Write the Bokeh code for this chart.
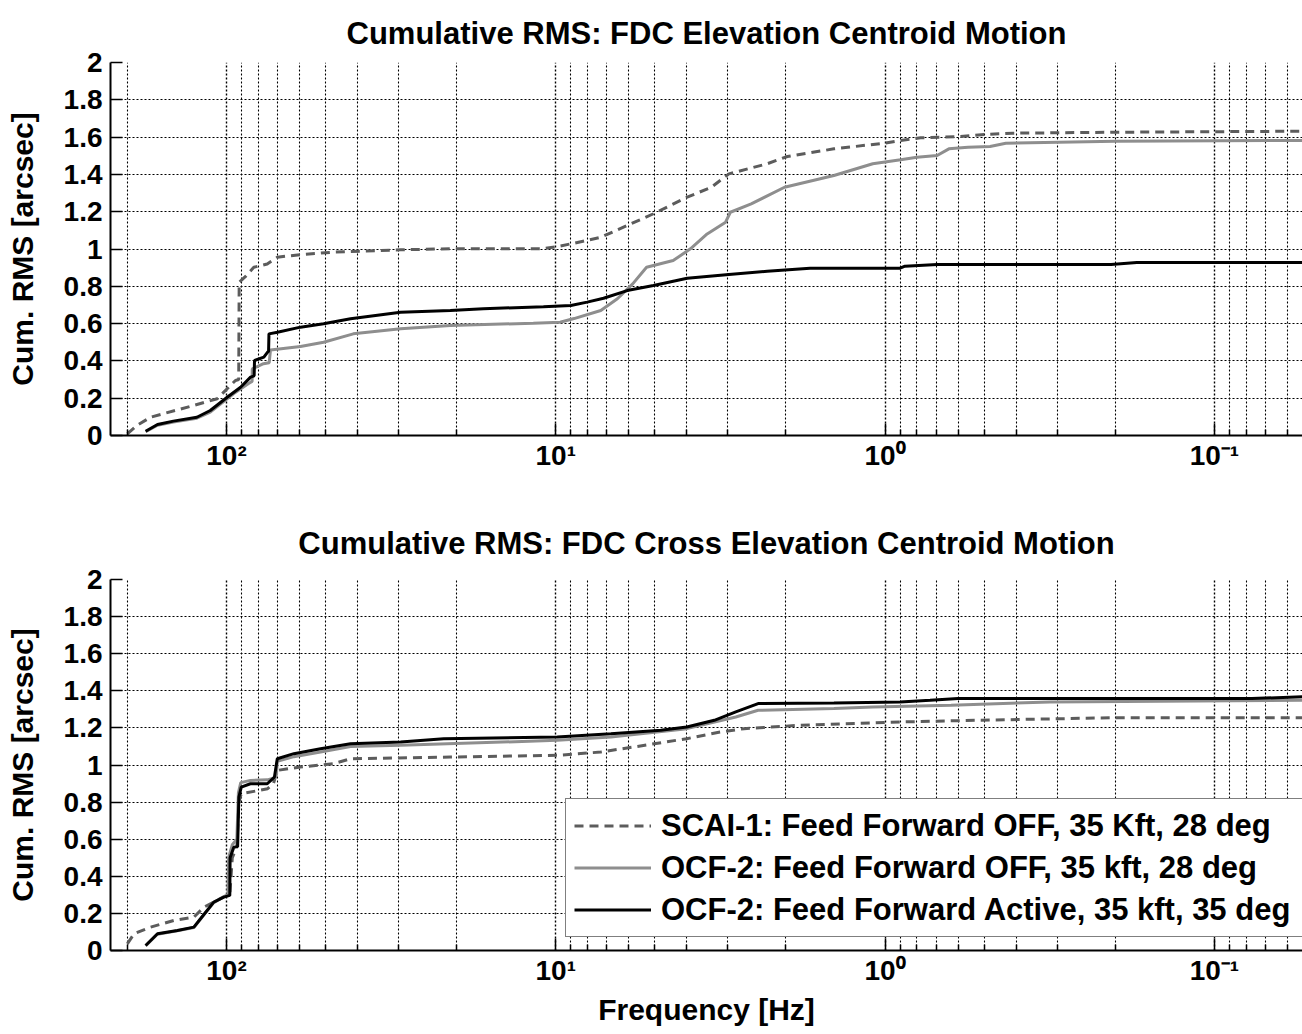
from bokeh.plotting import figure
from bokeh.models import Range1d, FixedTicker, Legend, LegendItem
from bokeh.layouts import column
from bokeh.embed import file_html
from bokeh.resources import INLINE

# ---------------- data ----------------
# Panel 1: FDC Elevation centroid motion
el_scai_f = [200, 187, 170, 125.9, 106.7, 93.9, 91.8, 91.5, 87.5, 82.6, 75.2, 70.1, 59.6, 47.2, 29.6,
             20.9, 11.1, 9.9, 8.8, 7.3, 6.07, 5.05, 3.99, 3.37, 2.98, 2.28, 1.98, 1.43, 1.01, 0.897,
             0.78, 0.59, 0.5, 0.41, 0.2, 0.05]
el_scai_v = [0.009, 0.054, 0.098, 0.161, 0.197, 0.295, 0.30, 0.822, 0.853, 0.902, 0.92, 0.956, 0.97,
             0.983, 0.996, 1.001, 1.001, 1.013, 1.031, 1.063, 1.126, 1.189, 1.278, 1.331, 1.403, 1.457,
             1.496, 1.537, 1.567, 1.582, 1.596, 1.603, 1.614, 1.621, 1.626, 1.632]

el_off_f = [176, 162, 145, 123, 112, 95, 85.7, 83.6, 83.5, 77.2, 74.2, 73.5, 59.6, 50.7, 41.2, 29.6,
            20.9, 11.7, 9.7, 8.8, 7.3, 6.5, 5.84, 5.3, 4.4, 3.9, 3.47, 3.05, 2.95, 2.55, 2.02, 1.43,
            1.09, 0.897, 0.8, 0.695, 0.64, 0.56, 0.48, 0.43, 0.2, 0.05]
el_off_v = [0.02, 0.055, 0.072, 0.093, 0.125, 0.225, 0.279, 0.29, 0.357, 0.385, 0.39, 0.459, 0.477,
            0.5, 0.545, 0.572, 0.59, 0.602, 0.607, 0.627, 0.67, 0.733, 0.813, 0.902, 0.938, 1.001,
            1.081, 1.144, 1.197, 1.242, 1.331, 1.394, 1.457, 1.478, 1.492, 1.501, 1.537, 1.546, 1.55,
            1.567, 1.578, 1.582]

el_on_f = [176, 162, 145, 123, 112, 99.5, 90.6, 84.5, 82.4, 82.2, 77, 75, 74.5, 74.3, 70, 59.6, 50.7,
           42, 29.6, 20.9, 16.6, 10.9, 9.0, 8.03, 7.16, 6.07, 5.05, 3.99, 2.98, 2.28, 1.69, 0.90, 0.87,
           0.695, 0.206, 0.172, 0.05]
el_on_v = [0.023, 0.059, 0.077, 0.098, 0.134, 0.205, 0.259, 0.313, 0.32, 0.402, 0.42, 0.447, 0.45,
           0.545, 0.554, 0.581, 0.599, 0.626, 0.661, 0.670, 0.68, 0.69, 0.697, 0.715, 0.736, 0.777,
           0.804, 0.843, 0.863, 0.881, 0.897, 0.897, 0.908, 0.917, 0.917, 0.928, 0.928]

# Panel 2: FDC Cross Elevation centroid motion
xel_scai_f = [200, 191, 170, 144.6, 125.6, 117, 106.7, 101.9, 97.7, 96, 93, 91.7, 90.2, 75, 72, 70.1,
              59.6, 47.2, 42, 20.9, 9.9, 7.3, 5.8, 4.0, 3.17, 2.68, 1.82, 0.9, 0.53, 0.2, 0.05]
xel_scai_v = [0.036, 0.09, 0.126, 0.162, 0.18, 0.234, 0.27, 0.29, 0.30, 0.50, 0.56, 0.80, 0.845, 0.872,
              0.90, 0.971, 0.989, 1.007, 1.034, 1.043, 1.052, 1.07, 1.097, 1.142, 1.178, 1.196, 1.214,
              1.232, 1.241, 1.255, 1.255]

xel_off_f = [176, 162, 141, 125.6, 119.9, 109.3, 101.9, 99, 98.5, 96, 93, 92, 90.5, 84.6, 75.2, 71.5,
             70.5, 70.1, 62.4, 51.8, 42, 29.6, 9.9, 6.8, 4.0, 2.84, 2.43, 1.43, 1.09, 0.63, 0.316, 0.05]
xel_off_v = [0.025, 0.088, 0.106, 0.124, 0.17, 0.258, 0.29, 0.30, 0.50, 0.57, 0.60, 0.85, 0.905, 0.917,
             0.92, 0.93, 0.95, 1.02, 1.045, 1.07, 1.1, 1.106, 1.133, 1.151, 1.196, 1.259, 1.295, 1.304,
             1.313, 1.322, 1.34, 1.349]

xel_on_f = [176, 162, 141, 125.6, 119.9, 109.3, 101.9, 97.7, 97.5, 95, 92.5, 91.7, 90.2, 84.6, 75.2,
            71.5, 70.1, 62.4, 51.8, 42, 29.6, 21.9, 9.9, 6.8, 4.8, 4.0, 3.3, 2.84, 2.43, 1.43, 0.9,
            0.73, 0.6, 0.077, 0.05]
xel_on_v = [0.027, 0.09, 0.108, 0.126, 0.171, 0.261, 0.288, 0.297, 0.50, 0.557, 0.56, 0.827, 0.881,
            0.899, 0.899, 0.935, 1.034, 1.061, 1.088, 1.115, 1.124, 1.142, 1.151, 1.169, 1.187, 1.205,
            1.241, 1.286, 1.331, 1.334, 1.34, 1.349, 1.358, 1.358, 1.37]

# ticks and labels
x_major_ticks = [100, 10, 1, 0.1]
x_major_labels = ["10\u00b2", "10\u00b9", "10\u2070", "10\u207b\u00b9"]
x_minor_ticks = [200, 90, 80, 70, 60, 50, 40, 30, 20, 9, 8, 7, 6, 5, 4, 3, 2,
                 0.9, 0.8, 0.7, 0.6, 0.5, 0.4, 0.3, 0.2, 0.09, 0.08, 0.07, 0.06, 0.05]
y_ticks = [0, 0.2, 0.4, 0.6, 0.8, 1, 1.2, 1.4, 1.6, 1.8, 2]
y_labels = ["0", "0.2", "0.4", "0.6", "0.8", "1", "1.2", "1.4", "1.6", "1.8", "2"]

series_labels = ["SCAI-1: Feed Forward OFF, 35 Kft, 28 deg",
                 "OCF-2: Feed Forward OFF, 35 kft, 28 deg",
                 "OCF-2: Feed Forward Active, 35 kft, 35 deg"]

titles = ["Cumulative RMS: FDC Elevation Centroid Motion",
          "Cumulative RMS: FDC Cross Elevation Centroid Motion"]

# ---------------- styling ----------------
FONT = "Liberation Sans"
DASH_COLOR = "#5c5c5c"
GRAY_COLOR = "#8e8e8e"
X_START, X_END = 225.0, 0.0540


def make_fig(title, height, top, bottom, title_standoff):
    p = figure(width=1302, height=height, x_axis_type="log",
               x_range=Range1d(X_START, X_END), y_range=Range1d(0, 2),
               output_backend="svg", toolbar_location=None,
               min_border_left=110, min_border_right=0,
               min_border_top=top, min_border_bottom=bottom)
    p.outline_line_color = None
    p.background_fill_color = "white"
    p.border_fill_color = "white"

    p.title.text = title
    p.title.align = "center"
    p.title.offset = 5
    p.title.text_font = FONT
    p.title.text_font_style = "bold"
    p.title.text_font_size = "31px"
    p.title.text_color = "black"
    p.title.standoff = title_standoff

    p.xaxis.ticker = FixedTicker(ticks=x_major_ticks, minor_ticks=x_minor_ticks)
    p.xaxis.major_label_overrides = dict(zip(x_major_ticks, x_major_labels))
    p.yaxis.ticker = FixedTicker(ticks=y_ticks)
    p.yaxis.major_label_overrides = dict(zip(y_ticks, y_labels))

    for ax in (p.xaxis[0], p.yaxis[0]):
        ax.axis_line_width = 2
        ax.axis_line_color = "black"
        ax.major_tick_in = 12
        ax.major_tick_out = 0
        ax.major_tick_line_width = 1.5
        ax.major_tick_line_color = "black"
        ax.minor_tick_in = 6
        ax.minor_tick_out = 0
        ax.minor_tick_line_width = 1.5
        ax.minor_tick_line_color = "black"
        ax.major_label_text_font = FONT
        ax.major_label_text_font_style = "bold"
        ax.major_label_text_font_size = "28px"
        ax.major_label_text_color = "black"
        ax.axis_label_text_font = FONT
        ax.axis_label_text_font_style = "bold"
        ax.axis_label_text_font_size = "30px"
        ax.axis_label_text_color = "black"
    p.yaxis.minor_tick_line_color = None
    p.yaxis.major_label_standoff = 8
    p.xaxis.major_label_standoff = 4
    p.yaxis.axis_label = "Cum. RMS [arcsec]"
    p.yaxis.axis_label_standoff = 22

    p.xgrid.grid_line_color = "black"
    p.xgrid.grid_line_dash = "2 2"
    p.xgrid.grid_line_width = 1.4
    p.xgrid.minor_grid_line_color = "black"
    p.xgrid.minor_grid_line_dash = "2 2"
    p.xgrid.minor_grid_line_width = 1.1
    p.ygrid.grid_line_color = "black"
    p.ygrid.grid_line_dash = "2 2"
    p.ygrid.grid_line_width = 1.1
    return p


def add_series(p, scai_f, scai_v, off_f, off_v, on_f, on_v):
    r1 = p.line(scai_f, scai_v, line_color=DASH_COLOR, line_width=3, line_dash="9 6")
    r1m = p.scatter(x=[], y=[], marker="circle", size=8, fill_color=DASH_COLOR, line_color=DASH_COLOR)
    r2 = p.line(off_f, off_v, line_color=GRAY_COLOR, line_width=3)
    r3 = p.line(on_f, on_v, line_color="black", line_width=3)
    return [r1, r1m], r2, r3


p1 = make_fig(titles[0], 495, 62, 60, 24)
add_series(p1, el_scai_f, el_scai_v, el_off_f, el_off_v, el_on_f, el_on_v)

p2 = make_fig(titles[1], 536, 84, 81, 37)
rs1, rs2, rs3 = add_series(p2, xel_scai_f, xel_scai_v, xel_off_f, xel_off_v, xel_on_f, xel_on_v)
p2.xaxis.axis_label = "Frequency [Hz]"
p2.xaxis.axis_label_standoff = 4

legend = Legend(items=[LegendItem(label=series_labels[0], renderers=rs1),
                       LegendItem(label=series_labels[1], renderers=[rs2]),
                       LegendItem(label=series_labels[2], renderers=[rs3])],
                location=(455, 13))
legend.label_text_font = FONT
legend.label_text_font_style = "bold"
legend.label_text_font_size = "31px"
legend.label_text_color = "black"
legend.glyph_width = 77
legend.glyph_height = 37
legend.label_height = 37
legend.label_width = 634
legend.label_standoff = 10
legend.padding = 8
legend.spacing = 5
legend.margin = 0
legend.border_line_color = "black"
legend.border_line_width = 1.5
legend.background_fill_color = "white"
legend.background_fill_alpha = 1.0
p2.add_layout(legend)

layout = column(p1, p2, spacing=0)
open("out.html", "w").write(file_html(layout, INLINE))
